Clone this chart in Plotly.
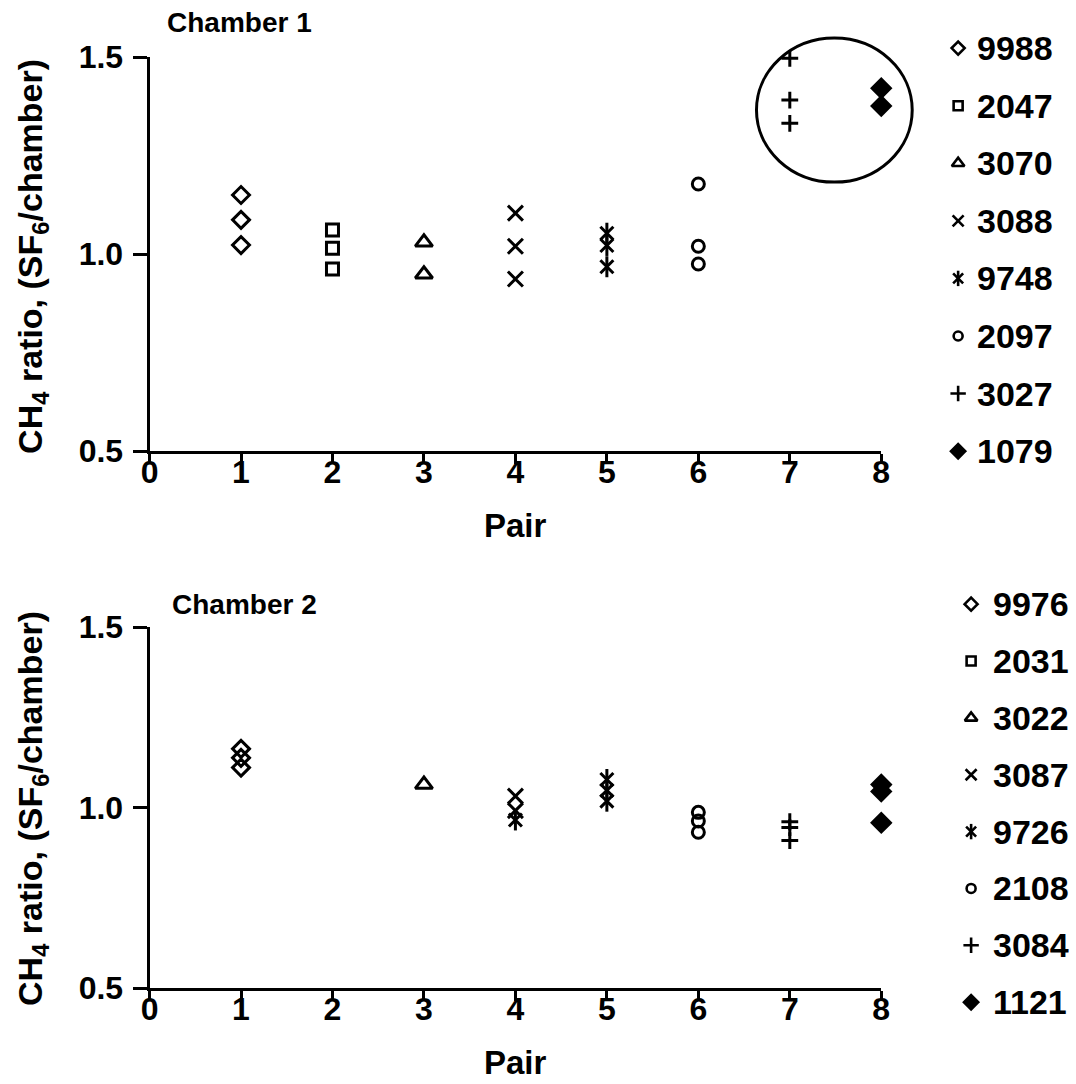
import plotly.graph_objects as go

# ---------------- data ----------------
chamber1_ids = ["9988", "2047", "3070", "3088", "9748", "2097", "3027", "1079"]
chamber1_pair = [[1, 1, 1], [2, 2, 2], [3, 3], [4, 4, 4], [5, 5, 5], [6, 6, 6], [7, 7, 7], [8, 8]]
chamber1_ratio = [
    [1.150, 1.087, 1.023],
    [1.061, 1.015, 0.962],
    [1.030, 0.949],
    [1.104, 1.020, 0.937],
    [1.053, 1.022, 0.968],
    [1.178, 1.020, 0.975],
    [1.497, 1.391, 1.332],
    [1.421, 1.376],
]

chamber2_ids = ["9976", "2031", "3022", "3087", "9726", "2108", "3084", "1121"]
chamber2_pair = [[1, 1, 1], [], [3], [4, 4], [4, 5, 5, 5], [6, 6, 6], [7, 7, 7], [8, 8, 8]]
chamber2_ratio = [
    [1.163, 1.138, 1.111],
    [],
    [1.064],
    [1.032, 0.992],
    [0.966, 1.078, 1.048, 1.018],
    [0.987, 0.963, 0.932],
    [0.961, 0.945, 0.909],
    [1.064, 1.045, 0.958],
]

x_ticks = [0, 1, 2, 3, 4, 5, 6, 7, 8]
y_ticks = [0.5, 1.0, 1.5]
y_tick_labels = ["0.5", "1.0", "1.5"]
titles = ["Chamber 1", "Chamber 2"]

# ---------------- style ----------------
W, H = 1076, 1084
# observed mapping from layout pixels to the photographed picture
SX, OX, SY, OY = 0.985, 7.2, 0.9667, 17.9
FONT = "Liberation Sans, Arial, Helvetica, sans-serif"


def px(x):
    return ((x - OX) / SX) / W


def py(y):
    return 1 - ((y - OY) / SY) / H


# symbol parts per series (asterisk = x + vertical bar)
SYMBOLS = [
    [("diamond-open", 13)],
    [("square-open", 12)],
    [("triangle-up-open", 15)],
    [("x-thin-open", 15)],
    [("x-thin-open", 13), ("line-ns-open", 15)],
    [("circle-open", 12)],
    [("cross-thin-open", 12)],
    [("diamond", 14)],
]
LEG_SIZES = [10, 9, 11, 11, [10, 11], 9, 11, 11]

fig = go.Figure()


def add_series(pairs, ratios, xa, ya):
    for i, (xs, ys) in enumerate(zip(pairs, ratios)):
        for sym, size in SYMBOLS[i]:
            fig.add_trace(go.Scatter(
                x=xs, y=ys, mode="markers", xaxis=xa, yaxis=ya,
                showlegend=False, cliponaxis=False, hoverinfo="skip",
                marker=dict(symbol=sym, size=size, color="black",
                            line=dict(color="black", width=3)),
            ))


def add_legend(ids, xa, ya, text_x):
    for i, lab in enumerate(ids):
        sizes = LEG_SIZES[i] if isinstance(LEG_SIZES[i], list) else [LEG_SIZES[i]]
        for (sym, _), size in zip(SYMBOLS[i], sizes):
            fig.add_trace(go.Scatter(
                x=[0.5], y=[i], mode="markers", xaxis=xa, yaxis=ya,
                showlegend=False, cliponaxis=False, hoverinfo="skip",
                marker=dict(symbol=sym, size=size, color="black",
                            line=dict(color="black", width=2.6)),
            ))
        fig.add_annotation(
            text=lab, xref="paper", yref=ya, x=px(text_x), y=i,
            xanchor="left", yanchor="middle", showarrow=False,
            font=dict(family=FONT, size=34, color="black", weight="bold"),
        )


add_series(chamber1_pair, chamber1_ratio, "x", "y")
add_series(chamber2_pair, chamber2_ratio, "x2", "y2")
add_legend(chamber1_ids, "x3", "y3", 975)
add_legend(chamber2_ids, "x4", "y4", 991)

tick_font = dict(family=FONT, size=32, color="black", weight="bold")
xcommon = dict(range=[0, 8], tickvals=x_ticks, showline=True, linecolor="black",
               linewidth=3, ticks="outside", ticklen=10, tickwidth=3,
               tickcolor="black", showgrid=False, zeroline=False,
               tickfont=tick_font, ticklabelstandoff=-20,
               domain=[px(148), px(881)], fixedrange=True)
ycommon = dict(range=[0.5, 1.5], tickvals=y_ticks, ticktext=y_tick_labels,
               showline=True, linecolor="black", linewidth=3, ticks="outside",
               ticklen=14, tickwidth=3, tickcolor="black", showgrid=False,
               zeroline=False, tickfont=tick_font, ticklabelstandoff=3,
               fixedrange=True)
hidden = dict(visible=False, showgrid=False, zeroline=False, fixedrange=True)

fig.update_layout(
    width=W, height=H,
    margin=dict(l=0, r=0, t=0, b=0),
    paper_bgcolor="white", plot_bgcolor="white",
    showlegend=False,
    xaxis=dict(**xcommon, anchor="y"),
    yaxis=dict(**ycommon, anchor="x", domain=[py(451), py(57)]),
    xaxis2=dict(**xcommon, anchor="y2"),
    yaxis2=dict(**ycommon, anchor="x2", domain=[py(988), py(627)]),
    xaxis3=dict(**hidden, anchor="y3", range=[0, 1], domain=[px(950), px(966)]),
    yaxis3=dict(**hidden, anchor="x3", range=[7, 0], domain=[py(451), py(48)]),
    xaxis4=dict(**hidden, anchor="y4", range=[0, 1], domain=[px(963), px(979)]),
    yaxis4=dict(**hidden, anchor="x4", range=[7, 0], domain=[py(1002), py(604)]),
)

ytitle = "CH<sub>4</sub> ratio, (SF<sub>6</sub>/chamber)"

panels = [
    dict(title_y=22, title_x=163, ycenter=256, pair_y=525),
    dict(title_y=604, title_x=168, ycenter=808, pair_y=1062),
]
for k, p in enumerate(panels):
    fig.add_annotation(text=titles[k], xref="paper", yref="paper",
                       x=px(p["title_x"]), y=py(p["title_y"]),
                       xanchor="left", yanchor="middle", showarrow=False,
                       font=dict(family=FONT, size=28, color="black", weight="bold"))
    fig.add_annotation(text="Pair", xref="paper", yref="paper",
                       x=px(514.5), y=py(p["pair_y"]),
                       xanchor="center", yanchor="middle", showarrow=False,
                       font=dict(family=FONT, size=33, color="black", weight="bold"))
    fig.add_annotation(text=ytitle, xref="paper", yref="paper",
                       x=px(30), y=py(p["ycenter"]), textangle=-90,
                       xanchor="center", yanchor="middle", showarrow=False,
                       font=dict(family=FONT, size=34, color="black", weight="bold"))

# highlight circle around pairs 7 and 8 in chamber 1
fig.add_shape(type="circle", xref="paper", yref="paper",
              x0=px(756), x1=px(912), y0=py(182), y1=py(38),
              line=dict(color="black", width=3))

fig.write_html("out.html")
